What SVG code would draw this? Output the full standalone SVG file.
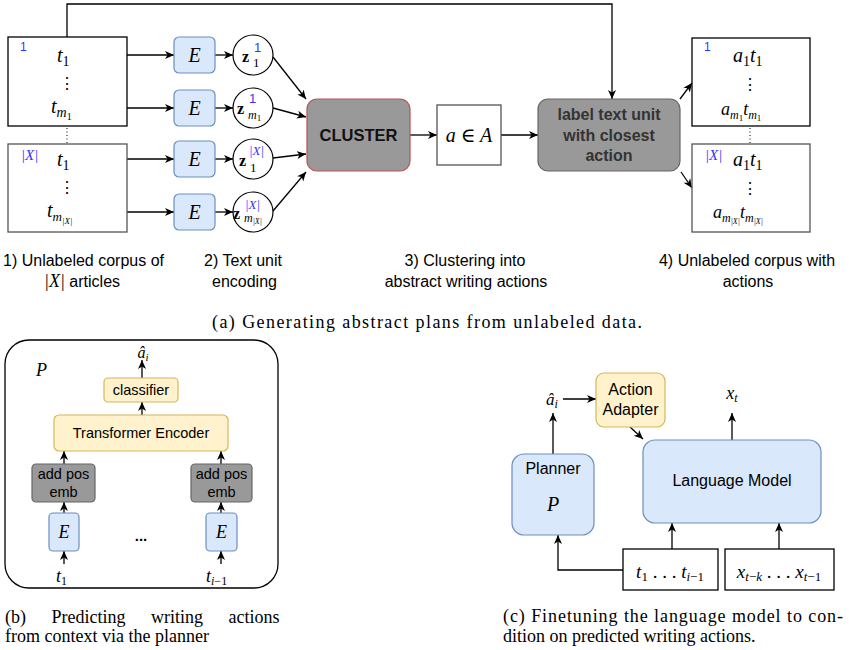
<svg xmlns="http://www.w3.org/2000/svg" width="849" height="650" viewBox="0 0 849 650">
<style>
.box{fill:#fff;stroke:#000;stroke-width:1.3}
.gbox{fill:#fff;stroke:#555;stroke-width:1.3}
.enc{fill:#dae8fc;stroke:#6c8ebf;stroke-width:1.2}
.yel{fill:#fff2cc;stroke:#d6b656;stroke-width:1.2}
.gray{fill:#999;stroke:#666;stroke-width:1.2}
.circ{fill:#fff;stroke:#000;stroke-width:1.2}
.m{font-family:"Liberation Serif","DejaVu Serif",serif;font-style:italic;fill:#000}
.mr{font-family:"Liberation Serif","DejaVu Serif",serif;font-style:normal;fill:#000}
.dots{font-family:"DejaVu Serif",serif;fill:#000}
.s{font-family:"Liberation Sans",Arial,sans-serif;fill:#000}
.b{font-family:"Liberation Sans",Arial,sans-serif;font-weight:bold}
.blue{fill:#3333ff}
.cap{font-family:"Liberation Serif","Times New Roman",serif;font-size:18px;fill:#000}
.ln{fill:none;stroke:#000;stroke-width:1.3}
</style>
<defs>
<marker id="ah" markerWidth="10" markerHeight="10" refX="9" refY="5" orient="auto" markerUnits="userSpaceOnUse">
<path d="M0,1 L9,5 L0,9 L2.5,5 z" fill="#000"/>
</marker>
</defs>

<g id="planner-frame"><rect x="5" y="340" width="273" height="248" rx="24" fill="#fff" stroke="#000" stroke-width="1.3"/>
<text class="m" x="36" y="376" font-size="18">P</text></g>

<!-- connectors -->
<g id="connectors" class="ln">
<path d="M67,37 V4 H612 V99" marker-end="url(#ah)"/>
<path d="M103,55 H174" marker-end="url(#ah)"/>
<path d="M103,108 H174" marker-end="url(#ah)"/>
<path d="M103,159 H174" marker-end="url(#ah)"/>
<path d="M103,212 H174" marker-end="url(#ah)"/>
<path d="M215,55 H233" marker-end="url(#ah)"/>
<path d="M215,108 H233" marker-end="url(#ah)"/>
<path d="M215,159 H233" marker-end="url(#ah)"/>
<path d="M215,212 H233" marker-end="url(#ah)"/>
<path d="M273,57 L306,99" marker-end="url(#ah)"/>
<path d="M273,108 L306,117" marker-end="url(#ah)"/>
<path d="M273,158 L306,154" marker-end="url(#ah)"/>
<path d="M273,211 L306,172" marker-end="url(#ah)"/>
<path d="M410,135 H437" marker-end="url(#ah)"/>
<path d="M501,135 H538" marker-end="url(#ah)"/>
<path d="M680,99 L692,83" marker-end="url(#ah)"/>
<path d="M681,172 L692,188" marker-end="url(#ah)"/>
<path d="M67,128 V143" stroke-dasharray="1 2.5" stroke-width="1"/>
<path d="M750,128 V143" stroke-dasharray="1 2.5" stroke-width="1"/>
<!-- (b) -->
<path d="M142,378 V360" marker-end="url(#ah)"/>
<path d="M142,415 V402" marker-end="url(#ah)"/>
<path d="M64,464 V451" marker-end="url(#ah)"/>
<path d="M221,464 V451" marker-end="url(#ah)"/>
<path d="M64,513 V502" marker-end="url(#ah)"/>
<path d="M221,513 V502" marker-end="url(#ah)"/>
<path d="M64,564 V551" marker-end="url(#ah)"/>
<path d="M221,564 V551" marker-end="url(#ah)"/>
<!-- (c) -->
<path d="M563,399 H596" marker-end="url(#ah)"/>
<path d="M630,427 L643,439" marker-end="url(#ah)"/>
<path d="M732,440 V413" marker-end="url(#ah)"/>
<path d="M553,454 V413" marker-end="url(#ah)"/>
<path d="M672,549 V523" marker-end="url(#ah)"/>
<path d="M779,549 V523" marker-end="url(#ah)"/>
<path d="M623,570 H558 V535" marker-end="url(#ah)"/>
</g>

<!-- (a) corpus boxes -->
<g id="corpus1">
<rect class="box" x="8" y="37" width="119" height="89"/>
<text class="s blue" x="20" y="51" font-size="12">1</text>
<text class="m" x="57" y="62" font-size="20">t<tspan class="mr" font-size="14" dy="4">1</tspan></text>
<text class="dots" x="67" y="89" font-size="16" text-anchor="middle">⋮</text>
<text class="m" x="51" y="113" font-size="20">t<tspan font-size="14" dy="4">m</tspan><tspan class="mr" font-size="10" dy="3">1</tspan></text>
</g>
<g id="corpusX">
<rect class="gbox" x="8" y="144" width="119" height="88"/>
<text class="m blue" x="21" y="160" font-size="15">|X|</text>
<text class="m" x="57" y="166" font-size="20">t<tspan class="mr" font-size="14" dy="4">1</tspan></text>
<text class="dots" x="67" y="193" font-size="16" text-anchor="middle">⋮</text>
<text class="m" x="47" y="217" font-size="20">t<tspan font-size="13" dy="4">m</tspan><tspan font-size="9" dy="3">|X|</tspan></text>
</g>

<!-- encoders -->
<g id="enc1"><rect class="enc" x="174" y="37" width="41" height="36" rx="5"/><text class="m" x="194.5" y="62" font-size="20" text-anchor="middle">E</text></g>
<g id="enc2"><rect class="enc" x="174" y="90" width="41" height="36" rx="5"/><text class="m" x="194.5" y="115" font-size="20" text-anchor="middle">E</text></g>
<g id="enc3"><rect class="enc" x="174" y="141" width="41" height="36" rx="5"/><text class="m" x="194.5" y="166" font-size="20" text-anchor="middle">E</text></g>
<g id="enc4"><rect class="enc" x="174" y="194" width="41" height="36" rx="5"/><text class="m" x="194.5" y="219" font-size="20" text-anchor="middle">E</text></g>

<!-- z circles -->
<g id="z1"><circle class="circ" cx="253" cy="55" r="20"/>
<text class="mr" x="242" y="62" font-size="16" font-weight="bold">z</text>
<text class="s blue" x="254" y="52" font-size="13">1</text>
<text class="mr" x="253" y="67" font-size="13">1</text></g>
<g id="z2"><circle class="circ" cx="253" cy="108" r="20"/>
<text class="mr" x="237" y="114" font-size="16" font-weight="bold">z</text>
<text class="s blue" x="249" y="103" font-size="13">1</text>
<text class="m" x="248" y="119" font-size="12">m<tspan class="mr" font-size="9" dy="2">1</tspan></text></g>
<g id="z3"><circle class="circ" cx="253" cy="159" r="20"/>
<text class="mr" x="239" y="166" font-size="16" font-weight="bold">z</text>
<text class="m blue" x="249" y="155" font-size="13">|X|</text>
<text class="mr" x="250" y="172" font-size="13">1</text></g>
<g id="z4"><circle class="circ" cx="253" cy="212" r="20"/>
<text class="mr" x="233" y="219" font-size="16" font-weight="bold">z</text>
<text class="m blue" x="245" y="209" font-size="13">|X|</text>
<text class="m" x="244" y="222" font-size="12">m<tspan font-size="8" dy="2">|X|</tspan></text></g>

<g id="cluster"><rect x="307" y="99" width="103" height="72" rx="10" fill="#999" stroke="#b85450" stroke-width="1.2"/>
<text class="b" x="358.5" y="141" font-size="16.5" text-anchor="middle" fill="#111">CLUSTER</text></g>

<g id="actionset"><rect class="gbox" x="437" y="105" width="64" height="60"/>
<text class="m" x="469" y="142" font-size="20" text-anchor="middle">a <tspan class="mr">∈</tspan> A</text></g>

<g id="labelbox"><rect x="538" y="99" width="142" height="72" rx="10" fill="#999" stroke="#666" stroke-width="1.2"/>
<text class="b" font-size="16" text-anchor="middle" fill="#333"><tspan x="609" y="120">label text unit</tspan><tspan x="609" y="141">with closest</tspan><tspan x="609" y="161">action</tspan></text></g>

<g id="labeled1">
<rect class="box" x="692" y="38" width="118" height="88"/>
<text class="s blue" x="704" y="51" font-size="12">1</text>
<text class="m" x="733" y="62" font-size="20">a<tspan class="mr" font-size="14" dy="4">1</tspan><tspan dy="-4">t</tspan><tspan class="mr" font-size="14" dy="4">1</tspan></text>
<text class="dots" x="750" y="90" font-size="16" text-anchor="middle">⋮</text>
<text class="m" x="721" y="115" font-size="18">a<tspan font-size="12" dy="4">m</tspan><tspan class="mr" font-size="9" dy="2">1</tspan><tspan dy="-6">t</tspan><tspan font-size="12" dy="4">m</tspan><tspan class="mr" font-size="9" dy="2">1</tspan></text>
</g>
<g id="labeledX">
<rect class="gbox" x="692" y="144" width="118" height="88"/>
<text class="m blue" x="705" y="160" font-size="15">|X|</text>
<text class="m" x="733" y="166" font-size="20">a<tspan class="mr" font-size="14" dy="4">1</tspan><tspan dy="-4">t</tspan><tspan class="mr" font-size="14" dy="4">1</tspan></text>
<text class="dots" x="750" y="194" font-size="16" text-anchor="middle">⋮</text>
<text class="m" x="713" y="218" font-size="18">a<tspan font-size="12" dy="4">m</tspan><tspan font-size="8" dy="2">|X|</tspan><tspan dy="-6">t</tspan><tspan font-size="12" dy="4">m</tspan><tspan font-size="8" dy="2">|X|</tspan></text>
</g>

<!-- step labels -->
<g id="steps" class="s" font-size="16">
<text x="3" y="266">1) Unlabeled corpus of</text>
<text x="44" y="287"><tspan class="m" font-size="18">|X|</tspan>   articles</text>
<text x="204" y="266">2) Text unit</text>
<text x="212" y="287">encoding</text>
<text x="465" y="266" text-anchor="middle">3) Clustering into</text>
<text x="466" y="287" text-anchor="middle">abstract writing actions</text>
<text x="747" y="266" text-anchor="middle">4) Unlabeled corpus with</text>
<text x="748" y="287" text-anchor="middle">actions</text>
</g>
<text class="cap" x="212" y="328" textLength="430" lengthAdjust="spacing">(a) Generating abstract plans from unlabeled data.</text>

<!-- (b) planner -->
<text class="m" x="143" y="358" font-size="16" text-anchor="middle">â<tspan font-size="11" dy="3">i</tspan></text>
<g id="classifier"><rect class="yel" x="104" y="378" width="74" height="24" rx="4"/>
<text class="s" x="141" y="395" font-size="14.5" text-anchor="middle">classifier</text></g>
<g id="transformer"><rect class="yel" x="54" y="415" width="174" height="36" rx="5"/>
<text class="s" x="141" y="438" font-size="14.5" text-anchor="middle">Transformer Encoder</text></g>
<g id="pos1"><rect class="gray" x="32" y="464" width="63" height="38" rx="4"/>
<text class="s" font-size="14.5" text-anchor="middle" fill="#333"><tspan x="63.5" y="479">add pos</tspan><tspan x="63.5" y="497">emb</tspan></text></g>
<g id="pos2"><rect class="gray" x="191" y="464" width="61" height="38" rx="4"/>
<text class="s" font-size="14.5" text-anchor="middle" fill="#333"><tspan x="221.5" y="479">add pos</tspan><tspan x="221.5" y="497">emb</tspan></text></g>
<g id="encb1"><rect class="enc" x="49" y="513" width="30" height="38" rx="4"/><text class="m" x="64" y="538" font-size="18" text-anchor="middle">E</text></g>
<g id="encb2"><rect class="enc" x="206" y="513" width="31" height="38" rx="4"/><text class="m" x="221.5" y="538" font-size="18" text-anchor="middle">E</text></g>
<text class="b" x="141" y="541" font-size="15" text-anchor="middle">...</text>
<text class="m" x="56" y="582" font-size="18">t<tspan class="mr" font-size="12" dy="3">1</tspan></text>
<text class="m" x="206" y="582" font-size="18">t<tspan font-size="12" dy="3">i<tspan class="mr">−1</tspan></tspan></text>
<text class="cap" x="5" y="623" word-spacing="21">(b) Predicting writing actions</text>
<text class="cap" x="5" y="642">from context via the planner</text>

<!-- (c) -->
<text class="m" x="552" y="405" font-size="17" text-anchor="middle">â<tspan font-size="12" dy="3">i</tspan></text>
<g id="adapter"><rect class="yel" x="596" y="373" width="69" height="54" rx="8"/>
<text class="s" font-size="16" text-anchor="middle"><tspan x="630.5" y="395">Action</tspan><tspan x="630.5" y="415">Adapter</tspan></text></g>
<text class="m" x="732" y="399" font-size="18" text-anchor="middle">x<tspan font-size="12" dy="3">t</tspan></text>
<g id="lm"><rect class="enc" x="643" y="440" width="178" height="83" rx="12"/>
<text class="s" x="732" y="486" font-size="16" text-anchor="middle">Language Model</text></g>
<g id="plannerc"><rect class="enc" x="512" y="454" width="82" height="81" rx="12"/>
<text class="s" x="553" y="474" font-size="16" text-anchor="middle">Planner</text>
<text class="m" x="553" y="511" font-size="20" text-anchor="middle">P</text></g>
<g id="ctx"><rect class="box" x="623" y="549" width="95" height="41"/>
<text class="m" x="670" y="578" font-size="19" text-anchor="middle">t<tspan class="mr" font-size="13" dy="3">1</tspan><tspan class="mr" dy="-3"> . . . </tspan>t<tspan font-size="13" dy="3">i<tspan class="mr">−1</tspan></tspan></text></g>
<g id="prev"><rect class="box" x="725" y="549" width="109" height="41"/>
<text class="m" x="779" y="578" font-size="19" text-anchor="middle">x<tspan font-size="13" dy="3">t<tspan class="mr">−</tspan>k</tspan><tspan class="mr" dy="-3"> . . . </tspan>x<tspan font-size="13" dy="3">t<tspan class="mr">−1</tspan></tspan></text></g>
<text class="cap" x="503" y="622" textLength="340" lengthAdjust="spacing">(c) Finetuning the language model to con-</text>
<text class="cap" x="503" y="642">dition on predicted writing actions.</text>
</svg>
